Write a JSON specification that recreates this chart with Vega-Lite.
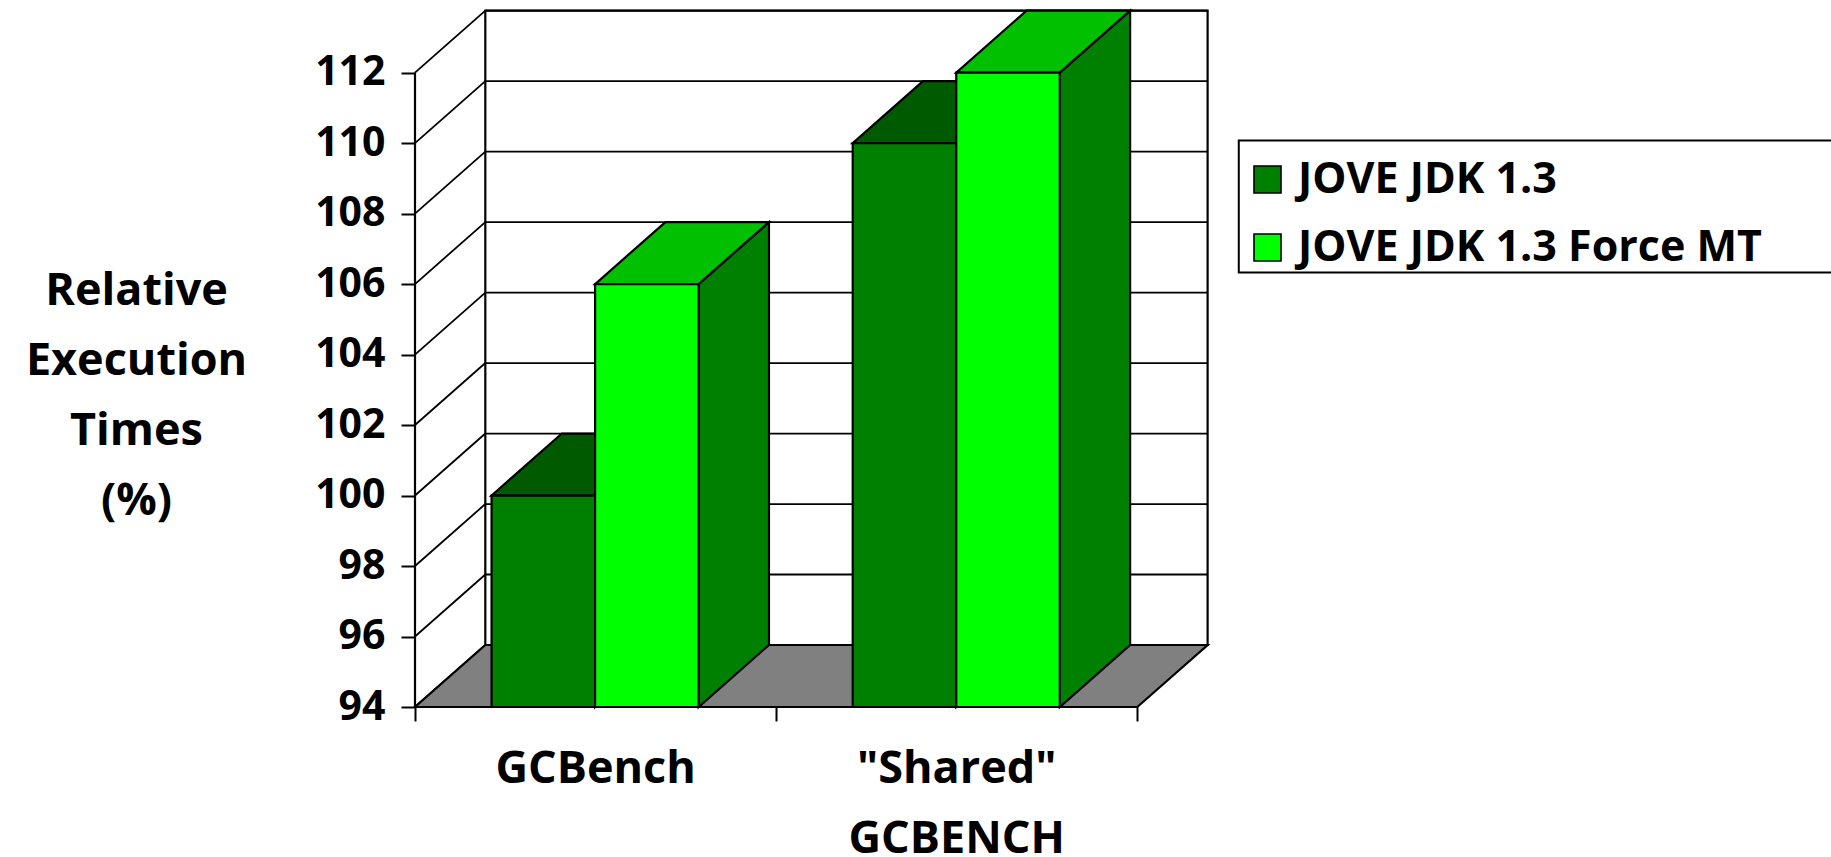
{
  "$schema": "https://vega.github.io/schema/vega-lite/v6.json",
  "autosize": {"type": "none"},
  "padding": {"left": 415, "top": 10, "right": 624, "bottom": 150},
  "width": 792,
  "height": 697,
  "background": "white",
  "config": {"view": {"stroke": null}},
  "resolve": {"axis": {"x": "independent", "y": "independent"}},
  "datasets": {
    "bars": [
      {"group": "GCBench", "series": "JOVE JDK 1.3", "value": 100},
      {"group": "GCBench", "series": "JOVE JDK 1.3 Force MT", "value": 106},
      {"group": "Shared", "series": "JOVE JDK 1.3", "value": 110},
      {"group": "Shared", "series": "JOVE JDK 1.3 Force MT", "value": 112}
    ],
    "ticks": [
      {"v": 94}, {"v": 96}, {"v": 98}, {"v": 100}, {"v": 102},
      {"v": 104}, {"v": 106}, {"v": 108}, {"v": 110}, {"v": 112}
    ],
    "groups": [
      {"index": 0, "label": "GCBench"},
      {"index": 1, "label": "\"Shared\"\nGCBENCH"}
    ],
    "floor": [{"start": 0, "end": 2}]
  },
  "layer": [
    {
      "description": "Back wall, carrying the two axes",
      "data": {"name": "floor"},
      "mark": {"type": "rect", "fill": "white", "stroke": "black", "strokeWidth": 2.2},
      "encoding": {
        "x": {"datum": 0.1947, "type": "quantitative", "scale": {"domain": [0, 2.193], "nice": false, "zero": false},
          "axis": {"values": [0, 1, 2], "labels": false, "domain": false, "grid": false, "ticks": true, "tickSize": 14, "tickWidth": 2, "tickColor": "black", "title": null}},
        "x2": {"datum": 2.1947},
        "y": {"datum": 95.759, "type": "quantitative", "scale": {"domain": [94, 113.776], "nice": false, "zero": false},
          "axis": {
            "values": [94, 96, 98, 100, 102, 104, 106, 108, 110, 112],
            "domain": false, "grid": false, "tickSize": 14, "tickWidth": 2, "tickColor": "black",
            "labelFont": "Open Sans", "labelFontWeight": "bold", "labelFontSize": 41, "labelColor": "black", "labelPadding": 16,
            "title": ["Relative", "Execution", "Times", "(%)"],
            "titleFont": "Open Sans", "titleFontWeight": "bold", "titleFontSize": 45, "titleColor": "black",
            "titleLineHeight": 70, "titleAngle": 0, "titleAlign": "center", "titleBaseline": "middle",
            "titleX": -279, "titleY": 280
          }},
        "y2": {"datum": 113.759}
      }
    },
    {
      "description": "Wall grid lines on the back wall",
      "data": {"name": "ticks"},
      "transform": [{"calculate": "datum.v + 1.759", "as": "vb"}],
      "mark": {"type": "rule", "stroke": "black", "strokeWidth": 1.8},
      "encoding": {
        "x": {"datum": 0.1947, "type": "quantitative", "scale": {"domain": [0, 2.193], "nice": false, "zero": false}, "axis": null},
        "x2": {"datum": 2.1947},
        "y": {"field": "vb", "type": "quantitative", "scale": {"domain": [94, 113.776], "nice": false, "zero": false}, "axis": null}
      }
    },
    {
      "description": "Wall grid lines receding along the left wall",
      "data": {"name": "ticks"},
      "transform": [{"calculate": "datum.v + 1.759", "as": "vb"}],
      "mark": {"type": "rule", "stroke": "black", "strokeWidth": 1.8},
      "encoding": {
        "x": {"datum": 0, "type": "quantitative", "scale": {"domain": [0, 2.193], "nice": false, "zero": false}, "axis": null},
        "x2": {"datum": 0.1947},
        "y": {"field": "v", "type": "quantitative", "scale": {"domain": [94, 113.776], "nice": false, "zero": false}, "axis": null},
        "y2": {"field": "vb"}
      }
    },
    {
      "description": "Front edge of the left wall",
      "data": {"name": "floor"},
      "mark": {"type": "rule", "stroke": "black", "strokeWidth": 2.2},
      "encoding": {
        "x": {"datum": 0, "type": "quantitative", "scale": {"domain": [0, 2.193], "nice": false, "zero": false}, "axis": null},
        "y": {"datum": 94, "type": "quantitative", "scale": {"domain": [94, 113.776], "nice": false, "zero": false}, "axis": null},
        "y2": {"datum": 112}
      }
    },
    {
      "description": "Grey floor parallelogram",
      "data": {"name": "floor"},
      "transform": [
        {"calculate": "[0, 1]", "as": "depth"},
        {"flatten": ["depth"]},
        {"calculate": "datum.start + datum.depth * 0.1947", "as": "x0"},
        {"calculate": "datum.end + datum.depth * 0.1947", "as": "x1"},
        {"calculate": "94 + datum.depth * 1.759", "as": "level"}
      ],
      "mark": {"type": "area", "orient": "horizontal", "fill": "#808080", "stroke": "black", "strokeWidth": 2.2},
      "encoding": {
        "x": {"field": "x0", "type": "quantitative", "stack": null, "scale": {"domain": [0, 2.193], "nice": false, "zero": false}, "axis": null},
        "x2": {"field": "x1"},
        "y": {"field": "level", "type": "quantitative", "scale": {"domain": [94, 113.776], "nice": false, "zero": false}, "axis": null}
      }
    },
    {
      "description": "Right side faces of the bars",
      "data": {"name": "bars"},
      "transform": [
        {"calculate": "datum.group === 'GCBench' ? 0 : 1", "as": "index"},
        {"calculate": "datum.series === 'JOVE JDK 1.3' ? 0 : 1", "as": "slot"},
        {"calculate": "[0, 1]", "as": "depth"},
        {"flatten": ["depth"]},
        {"calculate": "datum.index + 0.212 + (datum.slot + 1) * 0.2867 + datum.depth * 0.1947", "as": "sx"},
        {"calculate": "datum.value + datum.depth * 1.759", "as": "upper"},
        {"calculate": "94 + datum.depth * 1.759", "as": "lower"},
        {"calculate": "datum.group + datum.series", "as": "bar"}
      ],
      "mark": {"type": "area", "orient": "vertical", "fill": "#008000", "stroke": "black", "strokeWidth": 2.2},
      "encoding": {
        "detail": {"field": "bar"},
        "x": {"field": "sx", "type": "quantitative", "scale": {"domain": [0, 2.193], "nice": false, "zero": false}, "axis": null},
        "y": {"field": "upper", "type": "quantitative", "stack": null, "scale": {"domain": [94, 113.776], "nice": false, "zero": false}, "axis": null},
        "y2": {"field": "lower"}
      }
    },
    {
      "description": "Top faces of the darker bars",
      "data": {"name": "bars"},
      "transform": [
        {"filter": "datum.series === 'JOVE JDK 1.3'"},
        {"calculate": "datum.group === 'GCBench' ? 0 : 1", "as": "index"},
        {"calculate": "[0, 1]", "as": "depth"},
        {"flatten": ["depth"]},
        {"calculate": "datum.index + 0.212 + datum.depth * 0.1947", "as": "x0"},
        {"calculate": "datum.index + 0.212 + 0.2867 + datum.depth * 0.1947", "as": "x1"},
        {"calculate": "datum.value + datum.depth * 1.759", "as": "level"}
      ],
      "mark": {"type": "area", "orient": "horizontal", "fill": "#005A00", "stroke": "black", "strokeWidth": 2.2},
      "encoding": {
        "detail": {"field": "group"},
        "x": {"field": "x0", "type": "quantitative", "stack": null, "scale": {"domain": [0, 2.193], "nice": false, "zero": false}, "axis": null},
        "x2": {"field": "x1"},
        "y": {"field": "level", "type": "quantitative", "scale": {"domain": [94, 113.776], "nice": false, "zero": false}, "axis": null}
      }
    },
    {
      "description": "Top faces of the brighter bars",
      "data": {"name": "bars"},
      "transform": [
        {"filter": "datum.series !== 'JOVE JDK 1.3'"},
        {"calculate": "datum.group === 'GCBench' ? 0 : 1", "as": "index"},
        {"calculate": "[0, 1]", "as": "depth"},
        {"flatten": ["depth"]},
        {"calculate": "datum.index + 0.4987 + datum.depth * 0.1947", "as": "x0"},
        {"calculate": "datum.index + 0.4987 + 0.2867 + datum.depth * 0.1947", "as": "x1"},
        {"calculate": "datum.value + datum.depth * 1.759", "as": "level"}
      ],
      "mark": {"type": "area", "orient": "horizontal", "fill": "#00C000", "stroke": "black", "strokeWidth": 2.2},
      "encoding": {
        "detail": {"field": "group"},
        "x": {"field": "x0", "type": "quantitative", "stack": null, "scale": {"domain": [0, 2.193], "nice": false, "zero": false}, "axis": null},
        "x2": {"field": "x1"},
        "y": {"field": "level", "type": "quantitative", "scale": {"domain": [94, 113.776], "nice": false, "zero": false}, "axis": null}
      }
    },
    {
      "description": "Frame behind the legend, running off the right side",
      "data": {"name": "floor"},
      "mark": {"type": "rect", "fill": "white", "stroke": "black", "strokeWidth": 2},
      "encoding": {
        "x": {"datum": 2.281, "type": "quantitative", "scale": {"domain": [0, 2.193], "nice": false, "zero": false}, "axis": null},
        "x2": {"datum": 4},
        "y": {"datum": 110.07, "type": "quantitative", "scale": {"domain": [94, 113.776], "nice": false, "zero": false}, "axis": null},
        "y2": {"datum": 106.33}
      }
    },
    {
      "description": "Front faces of the bars, with the series legend",
      "data": {"name": "bars"},
      "transform": [
        {"calculate": "datum.group === 'GCBench' ? 0 : 1", "as": "index"},
        {"calculate": "datum.series === 'JOVE JDK 1.3' ? 0 : 1", "as": "slot"},
        {"calculate": "datum.index + 0.212 + datum.slot * 0.2867", "as": "x0"},
        {"calculate": "datum.x0 + 0.2867", "as": "x1"},
        {"calculate": "94", "as": "base"}
      ],
      "mark": {"type": "bar", "stroke": "black", "strokeWidth": 2.2},
      "encoding": {
        "x": {"field": "x0", "type": "quantitative", "scale": {"domain": [0, 2.193], "nice": false, "zero": false}, "axis": null},
        "x2": {"field": "x1"},
        "y": {"field": "value", "type": "quantitative", "stack": null, "scale": {"domain": [94, 113.776], "nice": false, "zero": false}, "axis": null},
        "y2": {"field": "base"},
        "color": {
          "field": "series", "type": "nominal",
          "scale": {"domain": ["JOVE JDK 1.3", "JOVE JDK 1.3 Force MT"], "range": ["#008000", "#00FF00"]},
          "legend": {
            "title": null, "orient": "none", "legendX": 831, "legendY": 148,
            "symbolType": "square", "symbolSize": 729, "symbolStrokeColor": "black", "symbolStrokeWidth": 1.6,
            "labelFont": "Open Sans", "labelFontWeight": "bold", "labelFontSize": 43, "labelColor": "black",
            "labelOffset": 9, "labelLimit": 900, "rowPadding": 24, "padding": 0
          }
        }
      }
    },
    {
      "description": "Category labels under the floor",
      "data": {"name": "groups"},
      "transform": [{"calculate": "datum.index + 0.5", "as": "cx"}, {"calculate": "94", "as": "base"}],
      "mark": {
        "type": "text", "font": "Open Sans", "fontWeight": "bold", "fontSize": 45, "color": "black",
        "align": "center", "baseline": "alphabetic", "dy": 76, "lineBreak": "\n", "lineHeight": 70
      },
      "encoding": {
        "x": {"field": "cx", "type": "quantitative", "scale": {"domain": [0, 2.193], "nice": false, "zero": false}, "axis": null},
        "y": {"field": "base", "type": "quantitative", "scale": {"domain": [94, 113.776], "nice": false, "zero": false}, "axis": null},
        "text": {"field": "label"}
      }
    }
  ]
}
